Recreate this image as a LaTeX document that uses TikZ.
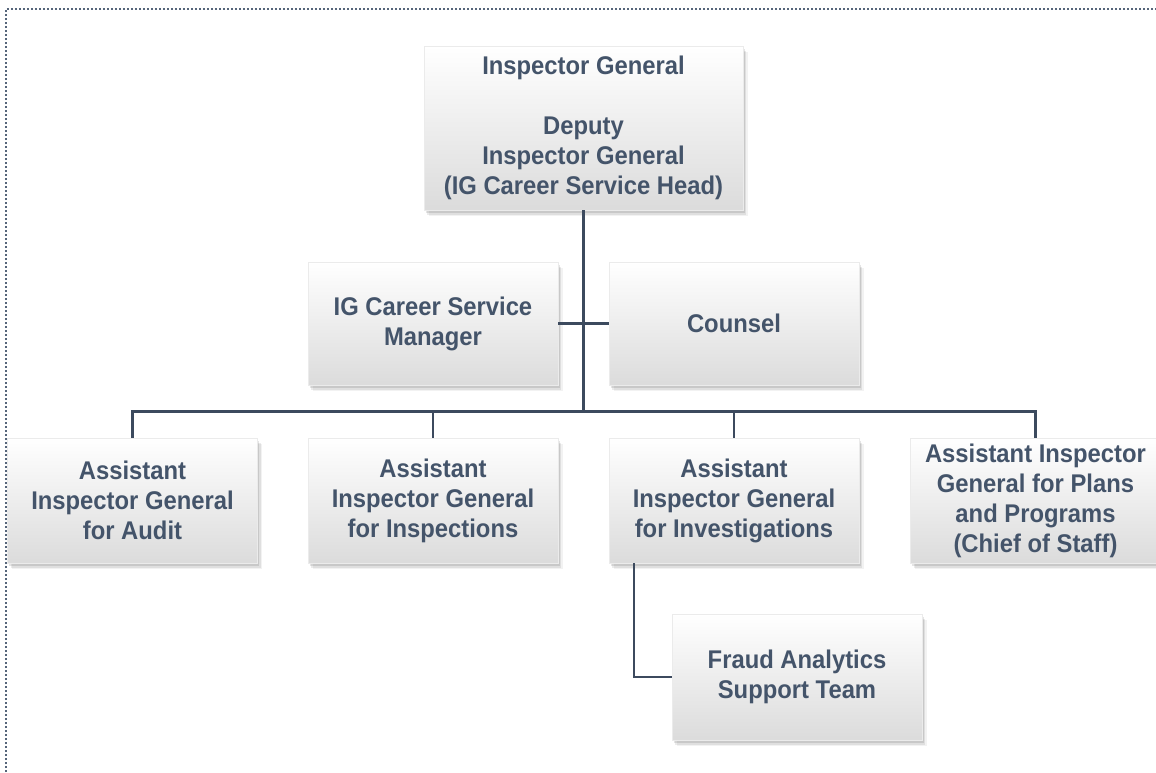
\documentclass[tikz,border=0pt]{standalone}
\usepackage{fontspec}
\newfontfamily\boxfont{Liberation Sans}[FakeStretch=0.93]
\usetikzlibrary{shadows}
\definecolor{inktext}{HTML}{44546A}
\definecolor{inkline}{HTML}{3C4A5E}
\definecolor{frame}{HTML}{56657A}

\tikzset{
  orgbox/.style={
    rectangle, inner sep=0pt, align=center,
    minimum width=250pt, minimum height=125pt,
    font=\boxfont\bfseries\fontsize{25.6}{30}\selectfont, text=inktext,
    top color=white, middle color=white!97!black, bottom color=white!86!black,
    draw=white!92!black, line width=0.3pt,
    drop shadow={shadow xshift=0.5pt, shadow yshift=-1pt, opacity=0.10, fill=black},
    drop shadow={shadow xshift=1.5pt, shadow yshift=-2.5pt, opacity=0.10, fill=black},
    drop shadow={shadow xshift=3pt, shadow yshift=-4.5pt, opacity=0.08, fill=black},
    drop shadow={shadow xshift=4.5pt, shadow yshift=-6pt, opacity=0.05, fill=black}
  },
  link/.style={draw=inkline, line width=2.7pt}
}

\begin{document}
\begin{tikzpicture}[x=1pt, y=-1pt]
  \useasboundingbox (0,0) rectangle (1156,772);
  \fill[white] (0,0) rectangle (1156,772);

  % dotted frame along the top and left edges
  \draw[frame, line width=1.6pt, dash pattern=on 1.6pt off 2.4pt]
    (6,772) -- (6,9) -- (1156,9);

  % junction of the trunk with the horizontal bus
  \coordinate (bus) at (583.5,411.5);

  % boxes
  \node[orgbox, minimum width=319pt, minimum height=164pt] (ig) at (583.5,128)
    {Inspector General\\ \\Deputy\\Inspector General\\(IG Career Service Head)};

  \node[orgbox, minimum height=123pt] (csm) at (433,323.5) {IG Career Service\\Manager};
  \node[orgbox, minimum height=123pt] (counsel) at (734,323.5) {Counsel};

  \node[orgbox] (audit) at (132.5,500.5) {Assistant\\Inspector General\\for Audit};
  \node[orgbox] (insp) at (433,500.5) {Assistant\\Inspector General\\for Inspections};
  \node[orgbox] (invest) at (734,500.5) {Assistant\\Inspector General\\for Investigations};
  \node[orgbox] (plans) at (1035.5,500.5) {Assistant Inspector\\General for Plans\\and Programs\\(Chief of Staff)};

  \node[orgbox, minimum height=126pt] (fraud) at (797,677) {Fraud Analytics\\Support Team};

  % connectors
  \draw[link] (ig.south) -- (bus);
  \draw[link] (csm.east) -- (counsel.west);
  \draw[link] (audit.north) |- (bus) -| (plans.north);
  \draw[link] (insp.north) -- (insp.north |- bus);
  \draw[link] (invest.north) -- (invest.north |- bus);
  \draw[link] ([xshift=-100pt]invest.south) |- (fraud.west);
\end{tikzpicture}
\end{document}
